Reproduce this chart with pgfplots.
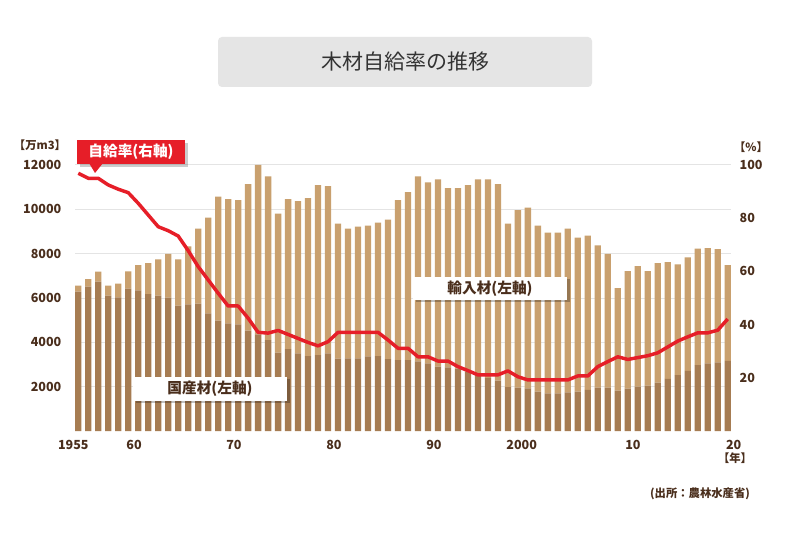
\documentclass[border=0pt]{standalone}
\usepackage{fontspec}
\setmainfont{Noto Sans CJK JP}
\usepackage{pgfplots}
\pgfplotsset{compat=1.18}
\usepackage{pgfplotstable}

\definecolor{barDom}{RGB}{166,124,82}
\definecolor{barImp}{RGB}{201,160,110}
\definecolor{lineRed}{RGB}{230,30,40}
\definecolor{txtBrown}{RGB}{74,46,28}
\definecolor{gridGray}{RGB}{228,228,228}
\definecolor{titleGray}{RGB}{229,229,229}
\definecolor{titleText}{RGB}{51,51,51}

% domestic / imported wood (10k m3), self-sufficiency rate (%)
\pgfplotstableread{
year dom imp rate
1955 6285 270 96.9
1956 6511 346 95.0
1957 6737 451 95.0
1958 6105 450 92.5
1959 6030 616 90.9
1960 6421 782 89.6
1961 6346 1142 85.6
1962 6180 1398 81.2
1963 6105 1639 76.8
1964 6015 1970 75.3
1965 5654 2090 73.3
1966 5714 2617 67.8
1967 5744 3383 61.8
1968 5308 4316 56.8
1969 4977 5594 51.8
1970 4857 5609 47.0
1971 4812 5608 47.0
1972 4526 6616 42.4
1973 4361 7639 37.1
1974 4105 7383 36.8
1975 3534 6270 37.8
1976 3699 6767 36.3
1977 3504 6871 34.8
1978 3383 7128 33.3
1979 3428 7669 32.0
1980 3504 7548 33.6
1981 3263 6090 37.1
1982 3278 5849 37.1
1983 3278 5940 37.1
1984 3368 5895 37.1
1985 3383 6015 37.1
1986 3248 6286 34.2
1987 3203 7217 31.1
1988 3203 7578 31.1
1989 3143 8345 27.9
1990 3052 8166 27.9
1991 2902 8451 26.3
1992 2872 8090 26.3
1993 2812 8150 24.2
1994 2677 8420 22.7
1995 2526 8827 21.1
1996 2391 8962 21.1
1997 2270 8872 21.1
1998 1985 7368 22.6
1999 1955 8014 20.4
2000 1925 8149 19.2
2001 1774 7489 19.2
2002 1699 7248 19.2
2003 1699 7248 19.2
2004 1744 7383 19.2
2005 1774 6948 20.7
2006 1850 6962 20.7
2007 1955 6421 24.2
2008 1955 6030 26.1
2009 1820 4631 27.9
2010 1910 5308 26.9
2011 2000 5443 27.6
2012 2045 5173 28.3
2013 2180 5398 29.4
2014 2346 5278 31.6
2015 2526 4992 33.8
2016 2707 5127 35.4
2017 2977 5248 36.9
2018 3052 5203 36.9
2019 3097 5113 37.9
2020 3158 4330 42.1
}\woodtable

\begin{document}
\begin{tikzpicture}[x=0.75pt, y=0.75pt]
\fill[white] (0,0) rectangle (800,533);

% title
\fill[titleGray, rounded corners=3pt] (218,446) rectangle (592,496);
\node[text=titleText, font=\fontsize{15.75}{18}\selectfont] at (405,471) {木材自給率の推移};

\pgfplotsset{
    common/.style={
        at={(56.25pt,76.5pt)}, anchor=south west, scale only axis,
        width=492pt, height=199.5pt,
        xmin=1954.67, xmax=2020.33,
        axis line style={draw=none}, major tick length=0,
        scaled ticks=false,
        /pgf/number format/assume math mode=true,
        /pgf/number format/1000 sep={},
        tick label style={font=\fontsize{9.4}{11}\selectfont\bfseries, text=txtBrown},
    }
}

\begin{axis}[common,
    ybar stacked, bar width=0.63,
    ymin=0, ymax=12000,
    axis x line*=bottom, axis y line*=left,
    ytick={2000,4000,...,12000},
    ymajorgrids, grid style={gridGray, line width=0.75pt},
    % labels sit a little off the bar centres, as in the original
    xtick={1955,1960.58,1970.58,1980.59,1990.6,1999.38,2010.52,2020},
    xticklabels={\hspace*{-7.5pt}1955,60,70,80,90,2000,10,\hspace*{9pt}20},
    xticklabel style={yshift=-3.75pt},
    yticklabel style={xshift=-6.75pt},
]
\addplot[fill=barDom, draw=none] table[x=year, y=dom] {\woodtable};
\addplot[fill=barImp, draw=none] table[x=year, y=imp] {\woodtable};
\end{axis}

\begin{axis}[common,
    ymin=0, ymax=100,
    hide x axis, axis y line*=right,
    ytick={20,40,...,100},
    yticklabel style={xshift=3pt},
]
\addplot[lineRed, line width=2.6pt, line join=round, no marks] table[x=year, y=rate] {\woodtable};
\end{axis}

% unit labels
\node[text=txtBrown, font=\fontsize{8.5}{10}\selectfont\bfseries] at (40,388) {【万m3】};
\node[text=txtBrown, font=\fontsize{8.5}{10}\selectfont\bfseries] at (751,386) {【\%】};
\node[text=txtBrown, font=\fontsize{8.5}{10}\selectfont\bfseries] at (735,75) {【年】};

% series labels
\fill[black, opacity=0.25] (136,130) rectangle (290,154);
\fill[white] (133,132) rectangle (287,156);
\node[text=txtBrown, font=\fontsize{11}{13}\selectfont\bfseries] at (210,144) {国産材(左軸)};

\fill[black, opacity=0.25] (416,231) rectangle (570,254);
\fill[white] (413,233) rectangle (567,256);
\node[text=txtBrown, font=\fontsize{11}{13}\selectfont\bfseries] at (490,244.5) {輸入材(左軸)};

% rate callout
\fill[black, opacity=0.2] (80,366) rectangle (188,390);
\fill[lineRed] (77,369) rectangle (185,393);
\fill[lineRed] (89,370) -- (103,370) -- (95,360) -- cycle;
\node[text=white, font=\fontsize{11}{13}\selectfont\bfseries] at (131,381) {自給率(右軸)};

% source
\node[text=txtBrown, font=\fontsize{8.5}{10}\selectfont\bfseries] at (700,39) {(出所：農林水産省)};

\pgfresetboundingbox
\useasboundingbox (0,0) rectangle (800,533);
\end{tikzpicture}
\end{document}
